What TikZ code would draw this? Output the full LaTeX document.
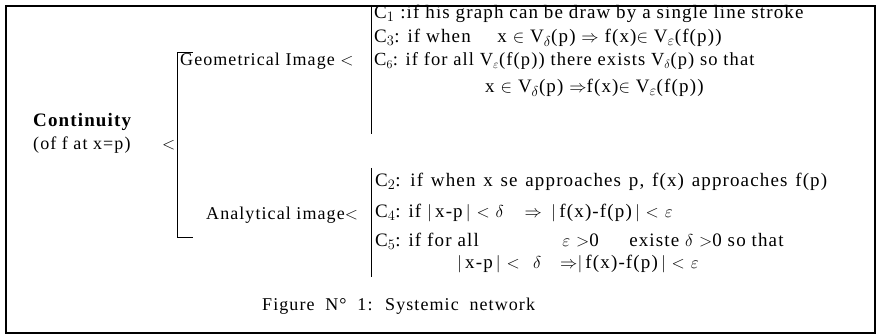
\documentclass[tikz,border=0pt]{standalone}
\usepackage{fontspec}
\setmainfont{Liberation Serif}[LetterSpace=6]
\usetikzlibrary{positioning}

\begin{document}
\begin{tikzpicture}[x=1pt,y=-1pt,
  every node/.style={inner sep=0pt, anchor=west, font=\fontsize{19}{21}\selectfont},
  lbl/.style={font=\fontsize{18}{20}\selectfont},
  brk/.style={line width=1pt},
  frame/.style={line width=1.2pt}
]
\useasboundingbox (0,0) rectangle (879,336);

% --- outer frame ---
\draw[frame] (6,6) rectangle (875,333);

% --- root ---
\node[font=\fontsize{19}{21}\selectfont\bfseries] (cont) at (33,122) {Continuity};
\node[lbl] (ofat) at (33,145) {(of f at x=p)};
\node[lbl] (lt0) at (162,145) {$<$};

% --- main bracket ---
\coordinate (mtop) at (177,53);
\coordinate (mbot) at (177,238);
\draw[brk] ([xshift=16pt]mtop) -- (mtop) -- (mbot) -- ([xshift=16pt]mbot);

% --- geometrical branch ---
\node[lbl] (geo) at (180,61) {Geometrical Image $<$};
\coordinate (gtop) at (371,5);
\coordinate (gbot) at (371,134);
\draw[brk] (gtop) -- (gbot);
\node (c1) at (374,14) {C$_1$ :if his graph can be draw by a single line stroke};
\node (c3) at (374,38) {C$_3$: if when\hspace{1.4em}x $\in$ V$_\delta$(p) $\Rightarrow$\ f(x)$\in$ V$_\varepsilon$(f(p))};
\node[font=\fontsize{18.5}{20}\selectfont] (c6) at (374,61) {C$_6$: if for all V$_\varepsilon$(f(p)) there exists V$_\delta$(p) so that};
\node (c6b) at (485,88) {x $\in$ V$_\delta$(p) $\Rightarrow$f(x)$\in$ V$_\varepsilon$(f(p))};

% --- analytical branch ---
\node[lbl] (ana) at (206,215) {Analytical image$<$};
\coordinate (atop) at (371,168);
\coordinate (abot) at (371,277);
\draw[brk] (atop) -- (abot);
\node (c2) at (375,182) {\spaceskip=0.41em C$_2$: if when x se approaches p, f(x) approaches f(p)};
\node (c4) at (375,213) {C$_4$: if $|$\,x-p\,$|$ $<$\ $\delta$\hspace{1.1em}$\Rightarrow$\hspace{0.5em}$|$\,f(x)-f(p)\,$|$ $<$\ $\varepsilon$};
\node (c5) at (375,241) {C$_5$: if for all\hspace{4.4em}$\varepsilon$ $>$0\hspace{1.6em}existe $\delta$ $>$0\ so that};
\node (c5b) at (457,264) {$|$\,x-p\,$|$ $<$\hspace{0.7em}$\delta$\hspace{1em}$\Rightarrow$$|$\,f(x)-f(p)\,$|$ $<$\ $\varepsilon$};

% --- caption ---
\node[lbl] (cap) at (262,306) {\spaceskip=0.6em Figure N° 1: Systemic network};

\end{tikzpicture}
\end{document}
